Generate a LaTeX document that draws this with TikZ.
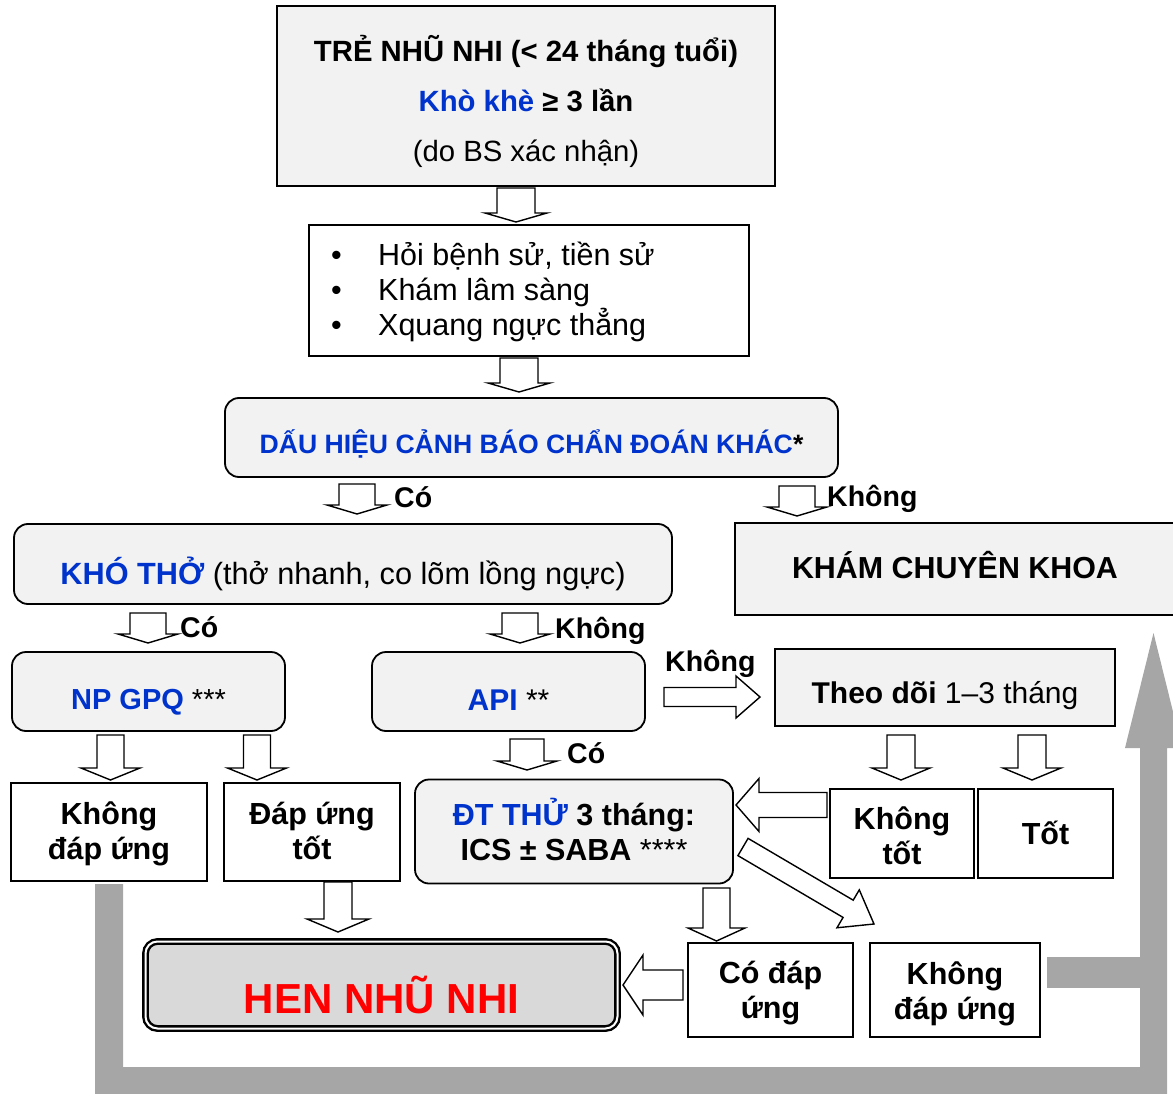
\documentclass[tikz,border=0pt]{standalone}
\usepackage{fontspec}
\setmainfont{Liberation Sans}
\usetikzlibrary{calc}
\definecolor{blueT}{RGB}{0,51,204}
\definecolor{redT}{RGB}{255,0,0}
\definecolor{boxgray}{RGB}{242,242,242}
\definecolor{hengray}{RGB}{217,217,217}
\definecolor{bargray}{RGB}{166,166,166}
\newcommand\fs[2]{\fontsize{#1}{#2}\selectfont}
% block arrow: start, tip, shaft half width, head half width, head length
\newcommand\barrow[5]{%
  \path (#1) coordinate (ba-a) (#2) coordinate (ba-b);
  \path ($(ba-b)!#5!(ba-a)$) coordinate (ba-h);
  \draw[blk] ($(ba-a)!#3!90:(ba-b)$) -- ($(ba-h)!#3!-90:(ba-a)$)
    -- ($(ba-h)!#4!-90:(ba-a)$) -- (ba-b) -- ($(ba-h)!#4!90:(ba-a)$)
    -- ($(ba-h)!#3!90:(ba-a)$) -- ($(ba-a)!#3!-90:(ba-b)$) -- cycle;}
\tikzset{
  box/.style={draw, line width=1.8pt, fill=boxgray, inner sep=0pt},
  rbox/.style={box, rounded corners=14pt},
  wbox/.style={box, fill=white},
  txt/.style={inner sep=0pt, align=center, text=black},
  blk/.style={draw, fill=white, line width=1.4pt, line join=miter},
  lbl/.style={inner sep=0pt, anchor=base west, font=\bfseries\fs{28.5}{34}},
}
\begin{document}
\begin{tikzpicture}[x=1pt,y=-1pt]
\useasboundingbox (0,0) rectangle (1173,1094);
\clip (0,0) rectangle (1173,1094);
% gray feedback path
\fill[bargray] (95,884) -- (123,884) -- (123,1067) -- (1140,1067) -- (1140,748)
  -- (1125,748) -- (1153.5,633) -- (1182,748) -- (1167,748) -- (1167,1094) -- (95,1094) -- cycle;
\fill[bargray] (1047,957) rectangle (1140,988);

% boxes
\node[box, minimum width=498pt, minimum height=180pt] (top) at (526,96) {};
\node[wbox, minimum width=440pt, minimum height=131pt] (bul) at (529,290.5) {};
\node[rbox, minimum width=613pt, minimum height=79pt] (dau) at (531.5,437.5) {};
\node[rbox, minimum width=658pt, minimum height=80pt] (kho) at (343,564) {};
\node[box, minimum width=440pt, minimum height=92pt] (kham) at (955,569) {};
\node[rbox, minimum width=273pt, minimum height=79pt] (np) at (148.5,691.5) {};
\node[rbox, minimum width=273pt, minimum height=79pt] (api) at (508.5,691.5) {};
\node[box, minimum width=340pt, minimum height=77pt] (theo) at (945,687.5) {};
\node[wbox, minimum width=196pt, minimum height=98pt] (kdu1) at (109,832) {};
\node[wbox, minimum width=176pt, minimum height=98pt] (dut) at (312,832) {};
\node[rbox, minimum width=318pt, minimum height=104pt] (dt) at (574,831.5) {};
\node[wbox, minimum width=144pt, minimum height=89pt] (ktot) at (902,833.5) {};
\node[wbox, minimum width=135pt, minimum height=89pt] (tot) at (1045.5,833.5) {};
\node[draw, fill=hengray, line width=2.4pt, double=white, double distance=2pt, rounded corners=12pt,
  minimum width=472pt, minimum height=87pt, inner sep=0pt] (hen) at (381.5,985) {};
\node[wbox, minimum width=165pt, minimum height=94pt] (cdu) at (770.5,990) {};
\node[wbox, minimum width=170pt, minimum height=94pt] (kdu2) at (955,990) {};

% texts
\node[txt, font=\bfseries\fs{29.3}{50}] (toptxt) at ($(top.center)+(0,5)$)
  {TRẺ NHŨ NHI (< 24 tháng tuổi)\\{\color{blueT}Khò khè} ≥ 3 lần\\{\mdseries (do BS xác nhận)}};
\node[inner sep=0pt, anchor=west, align=left, font=\fs{30.5}{35}] (bultxt) at (331,292)
  {\makebox[47pt][l]{•}Hỏi bệnh sử, tiền sử\\\makebox[47pt][l]{•}Khám lâm sàng\\\makebox[47pt][l]{•}Xquang ngực thẳng};
\node[txt, font=\bfseries\fs{26.6}{32}] (dautxt) at ($(dau.center)+(0,6)$)
  {{\color{blueT}DẤU HIỆU CẢNH BÁO CHẨN ĐOÁN KHÁC}*};
\node[txt, font=\fs{30.7}{36}] (khotxt) at ($(kho.center)+(0,10)$)
  {{\bfseries\color{blueT}KHÓ THỞ} (thở nhanh, co lõm lồng ngực)};
\node[txt, font=\bfseries\fs{30.4}{36}] (khamtxt) at ($(kham.center)+(0,-4)$) {KHÁM CHUYÊN KHOA};
\node[txt, font=\bfseries\fs{29}{35}] (nptxt) at ($(np.center)+(0,11)$) {{\color{blueT}NP GPQ} {\mdseries ***}};
\node[txt, font=\bfseries\fs{30}{35}] (apitxt) at ($(api.center)+(0,9)$) {{\color{blueT}API} {\mdseries **}};
\node[txt, font=\bfseries\fs{30}{35}] (theotxt) at ($(theo.center)+(0,8)$) {Theo dõi {\mdseries 1–3 tháng}};
\node[txt, font=\bfseries\fs{30.5}{35}] (kdu1txt) at ($(kdu1.center)+(0,2)$) {Không\\đáp ứng};
\node[txt, font=\bfseries\fs{30.5}{35}] (duttxt) at ($(dut.center)+(0,-1.5)$) {Đáp ứng\\tốt};
\node[txt, font=\bfseries\fs{30.5}{35}] (dttxt) at ($(dt.center)+(0,-2)$)
  {{\color{blueT}ĐT THỬ} 3 tháng:\\ICS ± SABA {\mdseries ****}};
\node[txt, font=\bfseries\fs{30.5}{35}] (ktottxt) at ($(ktot.center)+(0,2)$) {Không\\tốt};
\node[txt, font=\bfseries\fs{30.5}{35}] (tottxt) at ($(tot.center)+(0,-1)$) {Tốt};
\node[txt, text=redT, font=\bfseries\fs{42}{48}] (hentxt) at ($(hen.center)+(0,10)$) {HEN NHŨ NHI};
\node[txt, font=\bfseries\fs{30.5}{35}] (cdutxt) at ($(cdu.center)+(0,3.5)$) {Có đáp\\ứng};
\node[txt, font=\bfseries\fs{30.5}{35}] (kdu2txt) at ($(kdu2.center)+(0,3.5)$) {Không\\đáp ứng};

% block arrows
\barrow{516,188}{516,222}{19pt}{31pt}{9pt}
\barrow{519,358}{519,392}{19pt}{31pt}{9pt}
\barrow{357,484}{357,514}{18pt}{30pt}{9pt}
\barrow{797,486}{797,516}{18pt}{30pt}{9pt}
\barrow{148,613}{148,643}{18pt}{30pt}{9pt}
\barrow{520,613}{520,643}{18pt}{30pt}{9pt}
\barrow{527,739}{527,770}{17pt}{30pt}{9pt}
\barrow{110.5,735}{110.5,780}{13.5pt}{29.5pt}{12pt}
\barrow{257,735}{257,780}{13.5pt}{29.5pt}{12pt}
\barrow{901,735}{901,780}{14pt}{29pt}{12pt}
\barrow{1032,735}{1032,780}{14pt}{29pt}{12pt}
\barrow{338,882}{338,932}{14pt}{31pt}{13pt}
\barrow{716.5,888}{716.5,941}{13.5pt}{28.5pt}{13pt}
\barrow{664,697}{760,697}{9.5pt}{21pt}{24pt}
\barrow{827,805}{736,805}{12.5pt}{26.5pt}{23pt}
\barrow{743,847}{874,924}{10pt}{22pt}{30pt}
\barrow{683,985}{623,985}{15pt}{30pt}{20pt}

% labels
\node[lbl] (l1) at (394,507) {Có};
\node[lbl] (l2) at (827,506) {Không};
\node[lbl] (l3) at (180,637) {Có};
\node[lbl] (l4) at (555,638) {Không};
\node[lbl] (l5) at (665,671) {Không};
\node[lbl] (l6) at (567,763) {Có};
\end{tikzpicture}
\end{document}
